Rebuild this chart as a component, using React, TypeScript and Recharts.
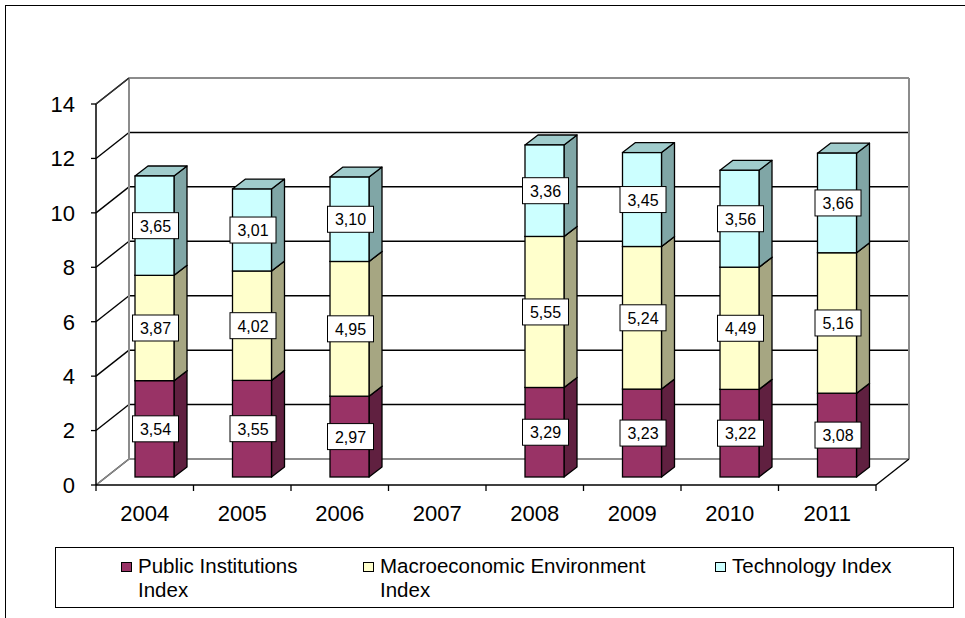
import React from 'react';
import { BarChart, Bar, XAxis, YAxis, CartesianGrid, ReferenceArea, LabelList } from 'recharts';

const years = ['2004', '2005', '2006', '2007', '2008', '2009', '2010', '2011'];
const publicInstitutions = [3.54, 3.55, 2.97, null, 3.29, 3.23, 3.22, 3.08];
const macroEnvironment = [3.87, 4.02, 4.95, null, 5.55, 5.24, 4.49, 5.16];
const technology = [3.65, 3.01, 3.10, null, 3.36, 3.45, 3.56, 3.66];
const yTicks = [0, 2, 4, 6, 8, 10, 12, 14];

const seriesNames = ['Public Institutions Index', 'Macroeconomic Environment Index', 'Technology Index'];
const seriesKeys = ['pub', 'macro', 'tech'];

const data = years.map((y, i) => ({
  year: y,
  pub: publicInstitutions[i],
  macro: macroEnvironment[i],
  tech: technology[i],
}));

const COLORS = [
  { front: '#993366', side: '#602040', top: '#7a2952' },
  { front: '#FFFFCC', side: '#A6A682', top: '#CCCCA3' },
  { front: '#CCFFFF', side: '#80A6A6', top: '#A0CCCC' },
];

// 3D offsets
const WX = 33; // back wall offset
const WY = -26;
const BX = 10; // bar front offset from axis plane
const BY = -8;
const DX = 13; // bar depth
const DY = -10;

const FONT = '"Liberation Sans", Arial, sans-serif';

const makeShape = (c: { front: string; side: string; top: string }) => (props: any) => {
  const { x, y, width, height } = props;
  if (x == null || y == null || !height) return <g />;
  const fx = x + BX;
  const fy = y + BY;
  const w = width;
  const h = height;
  return (
    <g>
      <polygon
        points={`${fx + w},${fy} ${fx + w + DX},${fy + DY} ${fx + w + DX},${fy + h + DY} ${fx + w},${fy + h}`}
        fill={c.side}
        stroke="#000"
        strokeWidth={1.3}
        strokeLinejoin="round"
      />
      <polygon
        points={`${fx},${fy} ${fx + DX},${fy + DY} ${fx + w + DX},${fy + DY} ${fx + w},${fy}`}
        fill={c.top}
        stroke="#000"
        strokeWidth={1.3}
        strokeLinejoin="round"
      />
      <rect x={fx} y={fy} width={w} height={h} fill={c.front} stroke="#000" strokeWidth={1.3} />
    </g>
  );
};

const ValueLabel = (props: any) => {
  const { x, y, width, height, value } = props;
  if (value == null || x == null) return null;
  const cx = x + width / 2 + BX + 1;
  const cy = y + height / 2 + BY;
  const txt = Number(value).toFixed(2).replace('.', ',');
  return (
    <g>
      <rect x={cx - 23} y={cy - 13} width={46} height={26} fill="#fff" stroke="#000" strokeWidth={1} />
      <text x={cx} y={cy + 6} textAnchor="middle" fontFamily={FONT} fontSize={16} fill="#000">
        {txt}
      </text>
    </g>
  );
};

const gridLine = (props: any) => {
  const { x1, y1, x2, index } = props;
  return (
    <g key={`gl-${index}`}>
      <line x1={x1} y1={y1} x2={x1 + WX} y2={y1 + WY} stroke="#000" strokeWidth={1.4} />
      <line x1={x1 + WX} y1={y1 + WY} x2={x2 + WX} y2={y1 + WY} stroke="#000" strokeWidth={1.5} />
    </g>
  );
};

const WallShape = (props: any) => {
  const { x, y, width, height } = props;
  if (x == null) return <g />;
  const gray = '#8c8c8c';
  return (
    <g>
      <line x1={x + WX} y1={y + WY} x2={x + WX} y2={y + height + WY} stroke={gray} strokeWidth={2} />
      <line x1={x + width + WX} y1={y + WY} x2={x + width + WX} y2={y + height + WY} stroke={gray} strokeWidth={2} />
      <line x1={x + WX} y1={y + WY} x2={x + width + WX} y2={y + WY} stroke={gray} strokeWidth={2} />
      <line x1={x + WX} y1={y + height + WY} x2={x + width + WX} y2={y + height + WY} stroke={gray} strokeWidth={2} />
      <line x1={x} y1={y} x2={x + WX} y2={y + WY} stroke="#333" strokeWidth={1.4} />
      <line x1={x} y1={y + height} x2={x + WX} y2={y + height + WY} stroke={gray} strokeWidth={1.5} />
      <line x1={x + width} y1={y + height} x2={x + width + WX} y2={y + height + WY} stroke="#000" strokeWidth={1.4} />
    </g>
  );
};

const XTick = (props: any) => {
  const { x, y, payload, index, visibleTicksCount } = props;
  const off = payload && payload.offset ? payload.offset : 48.75;
  const last = index === (visibleTicksCount || years.length) - 1;
  const axisY = y - 8;
  return (
    <g>
      <line x1={x - off} y1={axisY} x2={x - off} y2={axisY + 6} stroke="#000" strokeWidth={1.3} />
      {last && <line x1={x + off} y1={axisY} x2={x + off} y2={axisY + 6} stroke="#000" strokeWidth={1.3} />}
      <text x={x} y={axisY + 36} textAnchor="middle" fontFamily={FONT} fontSize={22} fill="#000">
        {payload.value}
      </text>
    </g>
  );
};

const legendPos = [
  { marker: 65, text: 82, width: 185 },
  { marker: 307, text: 324, width: 300 },
  { marker: 659, text: 676, width: 220 },
];

export default function App() {
  return (
    <div style={{ position: 'absolute', left: 0, top: 0, width: 965, height: 618, background: '#fff' }}>
      <div
        style={{
          position: 'absolute',
          left: 5,
          top: 5,
          width: 960,
          height: 613,
          borderTop: '1.5px solid #000',
          borderLeft: '1.5px solid #000',
          boxSizing: 'border-box',
        }}
      />
      <div style={{ position: 'absolute', left: 0, top: 0 }}>
        <BarChart
          width={965}
          height={618}
          data={data}
          margin={{ top: 104, right: 89, bottom: 103, left: 0 }}
          barSize={39}
        >
          <CartesianGrid vertical={false} horizontal={gridLine as any} stroke="#000" />
          <ReferenceArea y1={0} y2={14} shape={WallShape as any} fill="none" stroke="none" ifOverflow="visible" />
          <XAxis
            dataKey="year"
            height={30}
            axisLine={{ stroke: '#000', strokeWidth: 1.5 }}
            tickLine={false}
            tick={XTick as any}
            interval={0}
          />
          <YAxis
            width={96}
            domain={[0, 14]}
            ticks={yTicks}
            interval={0}
            axisLine={{ stroke: '#000', strokeWidth: 1.5 }}
            tickLine={{ stroke: '#000', strokeWidth: 1.3 }}
            tickSize={5}
            tickMargin={16}
            tick={{ fill: '#000', fontSize: 22, fontFamily: FONT }}
          />
          {seriesKeys.map((k, i) => (
            <Bar
              key={k}
              dataKey={k}
              name={seriesNames[i]}
              stackId="a"
              fill={COLORS[i].front}
              isAnimationActive={false}
              shape={makeShape(COLORS[i]) as any}
            >
              <LabelList dataKey={k} content={ValueLabel as any} />
            </Bar>
          ))}
        </BarChart>
      </div>
      <div
        style={{
          position: 'absolute',
          left: 55,
          top: 547,
          width: 899,
          height: 61,
          border: '1.5px solid #000',
          boxSizing: 'border-box',
          fontFamily: FONT,
          fontSize: 20.5,
          lineHeight: '24px',
          color: '#000',
        }}
      >
        {seriesNames.map((n, i) => (
          <React.Fragment key={n}>
            <div
              style={{
                position: 'absolute',
                left: legendPos[i].marker,
                top: 14,
                width: 11,
                height: 10,
                background: COLORS[i].front,
                border: '1.5px solid #000',
                boxSizing: 'border-box',
              }}
            />
            <div
              style={{
                position: 'absolute',
                left: legendPos[i].text,
                top: 6,
                width: legendPos[i].width,
              }}
            >
              {n}
            </div>
          </React.Fragment>
        ))}
      </div>
    </div>
  );
}
